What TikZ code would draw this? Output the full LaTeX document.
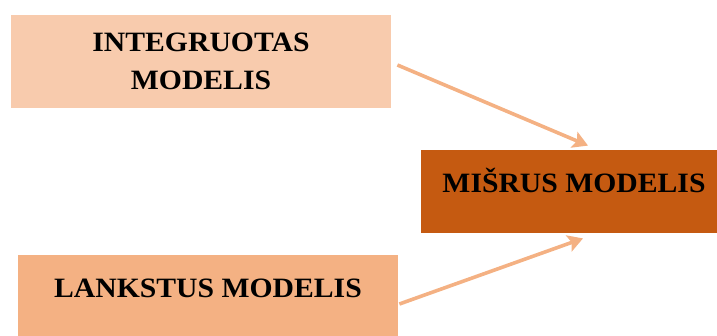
\documentclass[tikz,border=0pt]{standalone}
\usepackage{fontspec}
\setmainfont{Liberation Serif}
\usepackage{xcolor}
\usetikzlibrary{calc,positioning,arrows.meta}
\definecolor{peachlight}{HTML}{F8CBAD}
\definecolor{peach}{HTML}{F4B183}
\definecolor{rust}{HTML}{C55A11}
\newcommand{\widetext}[1]{\scalebox{1.06}[1]{#1}}
\begin{document}
\begin{tikzpicture}[-,auto,x=1pt,y=1pt,
                    thick,main node/.style={rectangle,draw=none,inner sep=0pt,font=\fontsize{28}{38}\selectfont\bfseries,align=center},
                    arr/.style={-{Stealth[length=15pt,width=17pt,inset=3pt]},line width=3.6pt,draw=peach}]
 \useasboundingbox (0,0) rectangle (717,-336);

\node[main node,fill=peachlight,minimum width=380pt,minimum height=93pt] (Integ) at (201,-61.5) {\widetext{INTEGRUOTAS}\\\widetext{MODELIS}};
\node[main node,fill=peach,minimum width=380pt,text height=43pt,text depth=52pt] (Lanks) at (208,-302.5) {\widetext{LANKSTUS MODELIS}};
\node[main node,fill=rust,minimum width=306pt,text height=43pt,text depth=40pt] (Misr) at (574,-191.5) {\widetext{MIŠRUS MODELIS}};

\draw[arr] ([xshift=6pt,yshift=-3.5pt]Integ.east) -- ([xshift=14pt,yshift=4pt]Misr.north);
\draw[arr] ([xshift=1pt,yshift=-1.5pt]Lanks.east) -- ([xshift=9pt,yshift=-5pt]Misr.south);

\end{tikzpicture}
\end{document}
